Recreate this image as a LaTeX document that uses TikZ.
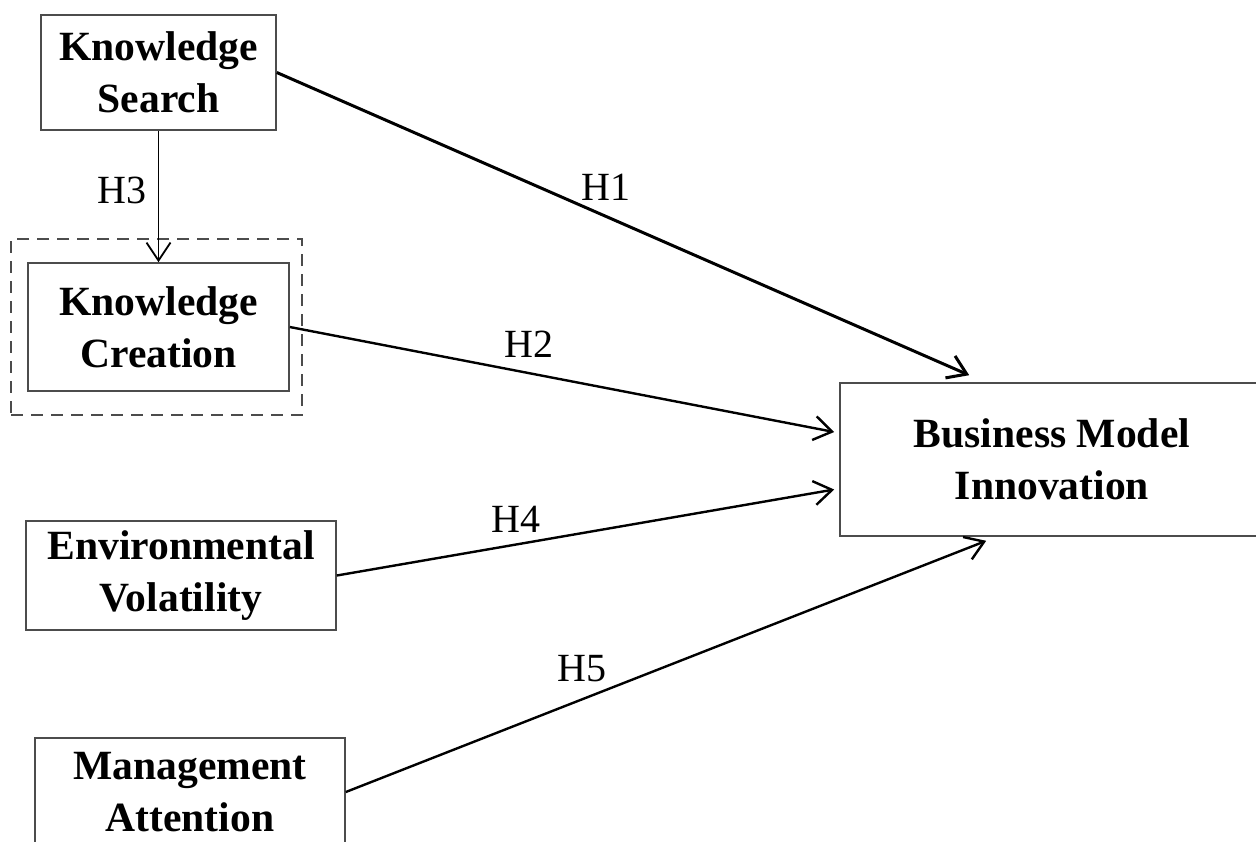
\documentclass[tikz,border=0pt]{standalone}
\usepackage{fontspec}
\setmainfont{Liberation Serif}
\usetikzlibrary{arrows.meta}
\tikzset{
  factor/.style={draw=black!70, line width=0.8pt, align=center, inner sep=0pt,
    font=\fontsize{20.8}{26}\selectfont\bfseries},
  frame/.style={draw=black!70, line width=0.7pt, dash pattern=on 6pt off 4pt},
  hyp/.style={line width=1.2pt, -{Straight Barb[length=9pt,width=12pt]}},
  hlabel/.style={inner sep=0pt, font=\fontsize{20}{24}\selectfont}
}
\begin{document}
\begin{tikzpicture}[x=0.5pt,y=-0.5pt]
\useasboundingbox (0,0) rectangle (1256,841);
% constructs
\node[factor, minimum width=117.5pt, minimum height=57.5pt] (ks) at (158.5,72.5) {Knowledge\\Search};
\node[factor, minimum width=130.5pt, minimum height=64pt] (kc) at (158.5,327) {Knowledge\\Creation};
\node[frame, minimum width=145.5pt, minimum height=88pt] (kcframe) at (156.5,327) {};
\node[factor, minimum width=212pt, minimum height=76.5pt] (bmi) at (1052,459.5) {Business Model\\Innovation};
\node[factor, minimum width=155pt, minimum height=54.5pt] (ev) at (181,575.5) {Environmental\\Volatility};
\node[factor, minimum width=155pt, minimum height=54pt] (ma) at (190,792) {Management\\Attention};
% hypotheses
\draw[hyp, line width=1.5pt] (ks.east) -- ([xshift=65pt,yshift=3.5pt]bmi.north west);
\draw[hyp] (kc.east) -- ([xshift=-2.5pt,yshift=13.75pt]bmi.west);
\draw[hyp, line width=0.9pt] (ks.south) -- (kc.north);
\draw[hyp] (ev.east) -- ([xshift=-2.5pt,yshift=-15pt]bmi.west);
\draw[hyp] (ma.east) -- ([xshift=73.5pt,yshift=-2pt]bmi.south west);
% labels
\node[hlabel] (h1) at (606,187) {H1};
\node[hlabel] (h2) at (529,344) {H2};
\node[hlabel] (h3) at (122,190) {H3};
\node[hlabel] (h4) at (516,519) {H4};
\node[hlabel] (h5) at (582,669) {H5};
\end{tikzpicture}
\end{document}
